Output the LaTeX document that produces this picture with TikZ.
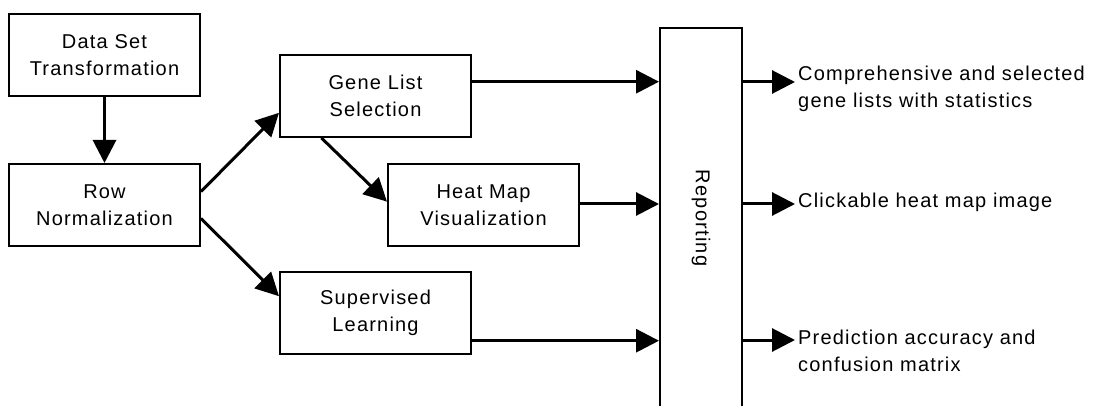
\documentclass[tikz,border=0pt]{standalone}
\usepackage{fontspec}
\setmainfont{Liberation Sans}[LetterSpace=6]
\usetikzlibrary{arrows.meta,calc}
\begin{document}
\begin{tikzpicture}[x=1pt,y=-1pt,
  every node/.style={font=\fontsize{20}{27}\selectfont},
  block/.style={draw, line width=2pt, minimum width=191pt, minimum height=82pt,
    align=center, inner sep=0pt},
  flow/.style={line width=3pt, -{Triangle[length=23pt,width=23pt]}},
  note/.style={anchor=base west, align=left, inner sep=0pt}]
\clip (0,0) rectangle (1095,406);
\fill[white] (0,0) rectangle (1095,406);

% processing steps
\node[block] (dst) at (104.5,55)  {Data Set\\Transformation};
\node[block] (rn)  at (104.5,205) {Row\\Normalization};
\node[block] (gls) at (375.5,96)  {Gene List\\Selection};
\node[block] (hmv) at (483.5,205) {Heat Map\\Visualization};
\node[block] (sl)  at (375.5,313) {Supervised\\Learning};

% tall reporting column, running off the bottom edge
\node[draw, line width=2pt, minimum width=82pt, minimum height=380pt, inner sep=0pt]
  (rep) at (701,218) {};
\node[rotate=-90] (reptext) at (rep.center) {Reporting};

% outputs (base anchor sits on the last line)
\node[note] (o1) at (798,108) {Comprehensive and selected\\gene lists with statistics};
\node[note] (o2) at (798,208) {Clickable heat map image};
\node[note] (o3) at (798,371) {Prediction accuracy and\\confusion matrix};

% levels of the connectors
\coordinate (g1) at ($(gls.north east)!0.33!(gls.south east)$);
\coordinate (s1) at ($(sl.north east)!0.83!(sl.south east)$);
\coordinate (y1) at (0,82);
\coordinate (y2) at (0,204);
\coordinate (y3) at (0,340);

% flow between steps
\draw[flow] (dst) -- (rn);
\draw[flow] ($(rn.north east)!0.34!(rn.south east)$) -- ($(gls.north west)!0.70!(gls.south west)$);
\draw[flow] ($(rn.north east)!0.66!(rn.south east)$) -- ($(sl.north west)!0.30!(sl.south west)$);
\draw[flow] ($(gls.south west)!0.22!(gls.south east)$) -- ($(hmv.north west)!0.46!(hmv.south west)$);

% into reporting
\draw[flow] (g1) -- (g1 -| rep.west);
\draw[flow] (hmv.east |- y2) -- (rep.west |- y2);
\draw[flow] (s1) -- (s1 -| rep.west);

% out of reporting
\draw[flow, shorten >=3pt] (rep.east |- y1) -- (o1.west |- y1);
\draw[flow, shorten >=3pt] (rep.east |- y2) -- (o2.west |- y2);
\draw[flow, shorten >=3pt] (rep.east |- y3) -- (o3.west |- y3);
\end{tikzpicture}
\end{document}
